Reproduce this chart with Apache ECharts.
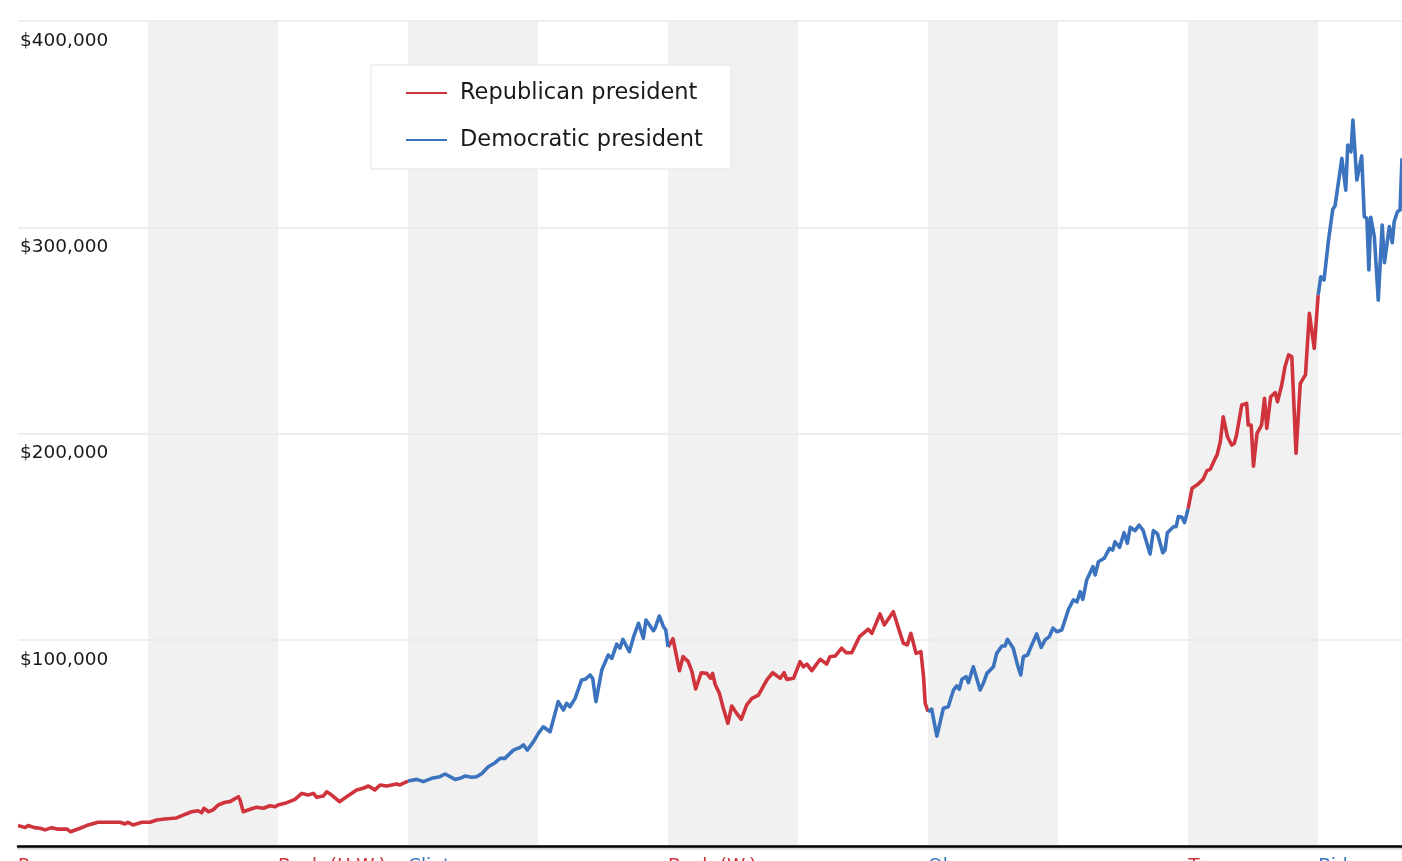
<!DOCTYPE html>
<html>
<head>
<meta charset="utf-8">
<script src="https://cdn.jsdelivr.net/npm/echarts@6/dist/echarts.min.js"></script>
<style>
html,body{margin:0;padding:0;background:#fff;}
#chart{width:1402px;height:861px;}
</style>
</head>
<body>
<div id="chart"></div>
<script>
// ---- data ----
const termStarts = [1981, 1989, 1993, 2001, 2009, 2017, 2021];
const termNames = ['Reagan', 'Bush (H.W.)', 'Clinton', 'Bush (W.)', 'Obama', 'Trump', 'Biden'];
const termParties = ['R', 'R', 'D', 'R', 'D', 'R', 'D'];
const bandStarts = [1985, 1993, 2001, 2009, 2017];
const bandEnds = [1989, 1997, 2005, 2013, 2021];
const yTicks = [0, 100000, 200000, 300000, 400000];
const seriesNames = ['Republican president', 'Democratic president'];

const years = [
1981.00,1981.22,1981.31,1981.50,1981.68,1981.83,1982.04,1982.20,1982.51,1982.62,1982.91,1983.11,1983.46,1983.80,
1984.14,1984.29,1984.38,1984.54,1984.81,1985.06,1985.27,1985.52,1985.88,1986.08,1986.34,1986.54,1986.65,1986.72,
1986.86,1987.00,1987.16,1987.37,1987.52,1987.78,1987.83,1987.93,1988.14,1988.34,1988.55,1988.75,1988.91,1989.00,
1989.27,1989.52,1989.73,1989.93,1990.09,1990.19,1990.39,1990.50,1990.65,1990.89,1991.11,1991.42,1991.62,1991.78,
1991.98,1992.14,1992.34,1992.65,1992.75,1993.00,
1993.27,1993.47,1993.73,1993.98,1994.14,1994.29,1994.45,1994.60,1994.75,1994.96,1995.11,1995.27,1995.47,1995.68,
1995.83,1995.98,1996.24,1996.45,1996.55,1996.67,1996.86,1997.01,1997.16,1997.37,1997.62,1997.78,1997.88,1997.98,
1998.14,1998.34,1998.45,1998.60,1998.68,1998.78,1998.96,1999.16,1999.27,1999.42,1999.52,1999.61,1999.81,1999.94,
2000.09,2000.24,2000.32,2000.55,2000.60,2000.73,2000.86,2000.93,2001.00,
2001.15,2001.35,2001.46,2001.62,2001.73,2001.85,2002.02,2002.19,2002.31,2002.37,2002.45,2002.58,2002.70,2002.84,
2002.96,2003.11,2003.25,2003.42,2003.58,2003.78,2004.04,2004.22,2004.45,2004.57,2004.65,2004.86,2005.06,2005.16,
2005.27,2005.42,2005.68,2005.78,2005.88,2005.98,2006.14,2006.34,2006.48,2006.65,2006.89,2007.16,2007.27,2007.52,
2007.65,2007.93,2008.14,2008.24,2008.36,2008.47,2008.63,2008.78,2008.86,2008.91,2009.00,
2009.11,2009.27,2009.47,2009.62,2009.78,2009.88,2009.96,2010.04,2010.17,2010.24,2010.39,2010.60,2010.70,2010.81,
2011.01,2011.11,2011.27,2011.37,2011.44,2011.62,2011.75,2011.85,2011.93,2012.06,2012.19,2012.34,2012.48,2012.60,
2012.73,2012.84,2012.96,2013.11,2013.22,2013.32,2013.47,2013.58,2013.68,2013.76,2013.88,2014.07,2014.14,2014.24,
2014.42,2014.58,2014.68,2014.75,2014.89,2015.03,2015.13,2015.22,2015.37,2015.49,2015.61,2015.83,2015.93,2016.06,
2016.22,2016.29,2016.36,2016.55,2016.63,2016.70,2016.81,2016.89,2017.00,
2017.12,2017.28,2017.46,2017.58,2017.68,2017.81,2017.89,2017.99,2018.08,2018.21,2018.34,2018.42,2018.49,2018.54,
2018.65,2018.80,2018.85,2018.94,2019.01,2019.12,2019.26,2019.35,2019.42,2019.54,2019.68,2019.75,2019.88,2019.98,
2020.09,2020.19,2020.32,2020.45,2020.61,2020.73,2020.88,2021.00,
2021.08,2021.18,2021.32,2021.45,2021.52,2021.73,2021.85,2021.91,2022.01,2022.07,2022.19,2022.34,2022.42,2022.50,
2022.56,2022.62,2022.73,2022.85,2022.97,2023.04,2023.19,2023.28,2023.34,2023.44,2023.52,2023.58
];

const values = [
9900,8900,9900,8900,8600,7800,8900,8200,8200,6900,8600,9900,11500,11500,
11500,10700,11500,10200,11500,11500,12600,13100,13600,15000,16600,17100,16100,18300,
16600,17500,19900,21200,21500,23900,22300,16600,17800,18800,18300,19500,19000,19900,
21000,22600,25500,24700,25500,23600,24200,26300,24700,21500,23900,27200,28000,29100,
27200,29600,29100,30100,29600,31500,
32300,31200,32800,33600,34900,33600,32300,32800,33900,33300,33600,35200,38400,40400,
42500,42500,46500,47800,49000,46500,50600,54600,57800,55400,70000,65900,69200,67500,
71600,80500,80800,82900,81300,70000,85300,92600,91000,97900,95900,100200,94200,101500,
108000,100700,109600,104400,105600,111500,106300,104700,96500,
100500,85000,91800,89400,84800,76100,84000,83700,81300,83700,78300,74000,66800,59500,
67900,64300,61400,68400,71600,73200,80500,84000,81300,84000,80800,81300,89400,86900,
88200,85000,90500,89400,88200,91800,92100,95900,93700,93700,101500,105100,103100,112500,
107200,113600,103100,98300,97500,103100,93400,94200,82100,69200,65100,
66300,53300,66800,67500,75600,77600,76000,80800,82100,79200,86900,75600,78900,83700,
86900,93400,97000,97000,100200,95900,87800,82900,91800,92600,97500,102800,96300,99900,
101500,105600,103900,104700,109900,114800,119300,118400,123300,119600,129000,135400,131400,137800,
139500,144300,143500,147500,144800,151900,146800,154500,152900,155600,153200,141600,152900,151300,
142200,143500,151900,154800,154800,159700,159400,156800,163500,
173400,175100,177800,182000,182600,187200,189600,196000,208100,198400,194400,195200,199300,200100,
213800,214600,204100,204100,184200,200100,204100,217100,202500,217800,219800,215400,223500,232400,
238100,237200,190400,224300,228400,258300,241300,267100,
276000,274400,293800,308700,310300,333400,318000,339900,336600,352000,322900,334500,305100,304300,
279300,304800,295400,264700,301100,282800,300300,292500,302700,307500,308400,333400
];

// ---- build ----
const RED = '#cf333c', BLUE = '#3c73be';
function termIndex(y) {
  let k = 0;
  for (let i = 0; i < termStarts.length; i++) if (termStarts[i] <= y) k = i;
  return k;
}
function partyData(party) {
  return years.map((y, i) => {
    const k = termIndex(y);
    const isBoundary = termStarts.indexOf(y) > 0;
    const ok = termParties[k] === party || (isBoundary && termParties[k - 1] === party);
    return [y, ok ? values[i] : '-'];
  });
}
const bands = bandStarts.map((s, i) => [{ xAxis: s }, { xAxis: bandEnds[i] }]);
const FONT = 'DejaVu Sans';

const chart = echarts.init(document.getElementById('chart'), null, { renderer: 'canvas' });
chart.setOption({
  animation: false,
  backgroundColor: '#fff',
  grid: { left: 18, right: 0, top: 21, bottom: 15, containLabel: false, outerBoundsMode: 'none' },
  legend: {
    data: seriesNames,
    orient: 'vertical',
    left: 371,
    top: 65,
    z: 6,
    padding: [16, 28, 17, 35],
    itemGap: 23,
    itemWidth: 41,
    itemHeight: 2,
    icon: 'rect',
    backgroundColor: '#fff',
    borderColor: '#e3e3e3',
    borderWidth: 1,
    borderRadius: 0,
    selectedMode: false,
    textStyle: { fontFamily: FONT, fontSize: 22.5, color: '#1a1a1a', lineHeight: 24, padding: [0, 0, 0, 8] }
  },
  xAxis: {
    type: 'value',
    z: 4,
    min: termStarts[0],
    max: years[years.length - 1],
    splitLine: { show: false },
    axisTick: { show: false },
    axisLine: { show: true, onZero: false, lineStyle: { color: '#000', width: 2.5, shadowColor: '#d6d6d6', shadowOffsetY: 2, shadowBlur: 0 } },
    axisLabel: {
      customValues: termStarts,
      align: 'left',
      margin: 11,
      fontFamily: FONT,
      fontSize: 18.5,
      hideOverlap: false,
      formatter: function (v) {
        const k = termStarts.indexOf(v);
        if (k < 0) return '';
        return '{' + termParties[k] + '|' + termNames[k] + '}';
      },
      rich: {
        R: { color: RED, fontFamily: FONT, fontSize: 18.5 },
        D: { color: BLUE, fontFamily: FONT, fontSize: 18.5 }
      }
    }
  },
  yAxis: {
    type: 'value',
    z: 2,
    min: yTicks[0],
    max: yTicks[yTicks.length - 1],
    interval: yTicks[1] - yTicks[0],
    axisLine: { show: false },
    axisTick: { show: false },
    splitLine: { lineStyle: { color: '#e9e9e9', width: 1.5 } },
    axisLabel: {
      inside: true,
      margin: 2,
      verticalAlign: 'top',
      padding: [11, 0, 0, 0],
      lineHeight: 18,
      fontFamily: FONT,
      fontSize: 18.5,
      color: '#1a1a1a',
      formatter: function (v) { return v === 0 ? '' : '$' + v.toLocaleString('en-US'); }
    }
  },
  series: [
    {
      name: 'bands',
      type: 'line',
      data: [],
      z: 1,
      silent: true,
      markArea: {
        silent: true,
        itemStyle: { color: '#f1f1f1' },
        label: { show: false },
        emphasis: { disabled: true },
        data: bands
      }
    },
    {
      name: seriesNames[0],
      type: 'line',
      z: 3,
      data: partyData('R'),
      showSymbol: false,
      symbol: 'none',
      connectNulls: false,
      color: RED,
      lineStyle: { color: RED, width: 3.6, join: 'round' }
    },
    {
      name: seriesNames[1],
      type: 'line',
      z: 3,
      data: partyData('D'),
      showSymbol: false,
      symbol: 'none',
      connectNulls: false,
      color: BLUE,
      lineStyle: { color: BLUE, width: 3.6, join: 'round' }
    }
  ]
});
</script>
</body>
</html>
